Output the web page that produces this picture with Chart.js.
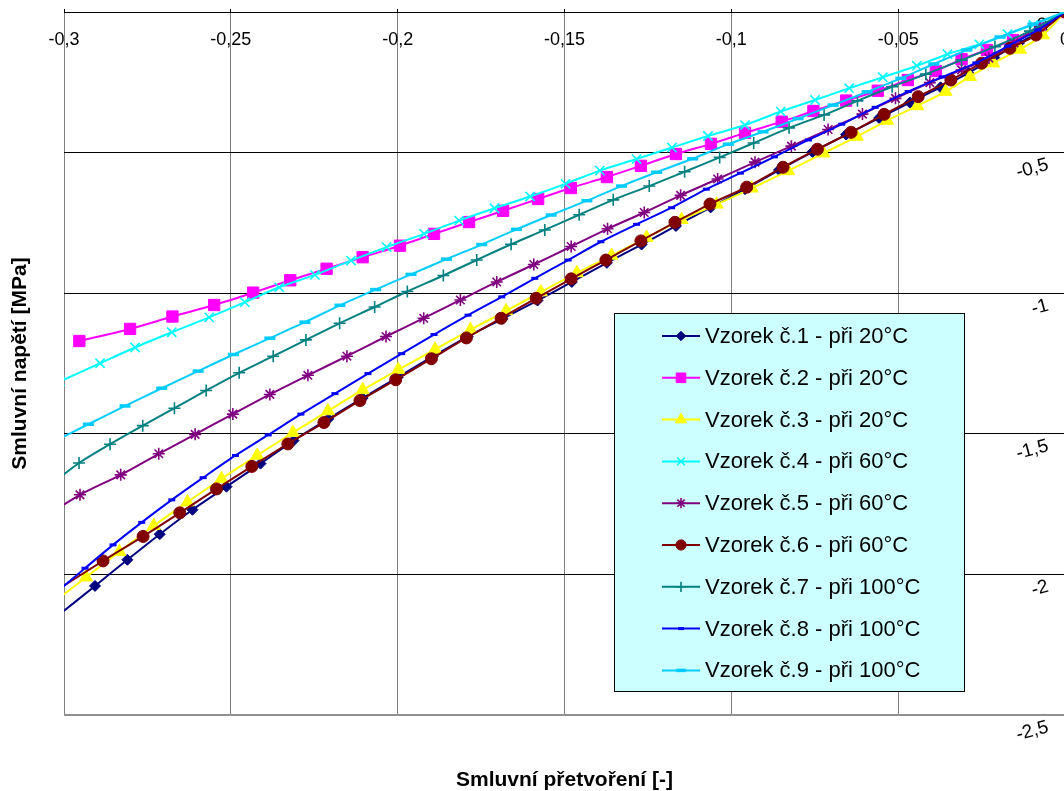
<!DOCTYPE html>
<html>
<head>
<meta charset="utf-8">
<script src="https://cdn.jsdelivr.net/npm/chart.js@4"></script>
<style>
  html, body { margin: 0; padding: 0; background: #ffffff; overflow: hidden; }
  #wrap { position: absolute; left: 0; top: 0; width: 1080px; height: 791px; }
  canvas { display: block; }
</style>
</head>
<body>
<div id="wrap"><canvas id="c" width="1080" height="791"></canvas></div>
<script>
// ---------- data ----------
const seriesNames = [
  'Vzorek č.1 - při 20°C', 'Vzorek č.2 - při 20°C', 'Vzorek č.3 - při 20°C',
  'Vzorek č.4 - při 60°C', 'Vzorek č.5 - při 60°C', 'Vzorek č.6 - při 60°C',
  'Vzorek č.7 - při 100°C', 'Vzorek č.8 - při 100°C', 'Vzorek č.9 - při 100°C'
];

const strain1 = [0, -0.0069, -0.0138, -0.0212, -0.0290, -0.0373, -0.0465, -0.0557, -0.0656, -0.0757, -0.0857, -0.0959, -0.1062, -0.1166, -0.1269, -0.1373, -0.1478, -0.1581, -0.1686, -0.1790, -0.1895, -0.2000, -0.2105, -0.2208, -0.2312, -0.2411, -0.2513, -0.2615, -0.2713, -0.2810, -0.2907, -0.3030];
const stress1 = [0, -0.064, -0.110, -0.162, -0.217, -0.268, -0.322, -0.377, -0.436, -0.498, -0.562, -0.630, -0.695, -0.761, -0.827, -0.892, -0.960, -1.026, -1.091, -1.154, -1.225, -1.299, -1.373, -1.447, -1.524, -1.606, -1.688, -1.770, -1.857, -1.948, -2.041, -2.158];

const strain2 = [0, -0.0075, -0.0156, -0.0234, -0.0310, -0.0387, -0.0471, -0.0561, -0.0656, -0.0754, -0.0849, -0.0959, -0.1061, -0.1166, -0.1271, -0.1373, -0.1481, -0.1579, -0.1684, -0.1786, -0.1891, -0.1993, -0.2105, -0.2213, -0.2322, -0.2433, -0.2550, -0.2675, -0.2802, -0.2954];
const stress2 = [0, -0.057, -0.100, -0.135, -0.168, -0.210, -0.242, -0.280, -0.315, -0.352, -0.390, -0.430, -0.469, -0.505, -0.547, -0.587, -0.626, -0.665, -0.707, -0.747, -0.789, -0.831, -0.872, -0.913, -0.954, -0.998, -1.042, -1.083, -1.127, -1.170];

const strain3 = [0, -0.0066, -0.0135, -0.0215, -0.0285, -0.0358, -0.0443, -0.0533, -0.0624, -0.0724, -0.0830, -0.0939, -0.1044, -0.1149, -0.1254, -0.1359, -0.1463, -0.1571, -0.1675, -0.1782, -0.1888, -0.1998, -0.2105, -0.2209, -0.2314, -0.2421, -0.2528, -0.2630, -0.2731, -0.2834, -0.2934, -0.3033];
const stress3 = [0, -0.082, -0.133, -0.182, -0.230, -0.283, -0.334, -0.386, -0.443, -0.502, -0.565, -0.627, -0.684, -0.739, -0.802, -0.866, -0.928, -0.996, -1.063, -1.130, -1.200, -1.272, -1.344, -1.419, -1.496, -1.577, -1.660, -1.743, -1.827, -1.919, -2.010, -2.101];

const strain4 = [0, -0.0095, -0.0172, -0.0257, -0.0352, -0.0444, -0.0546, -0.0647, -0.0749, -0.0852, -0.0959, -0.1070, -0.1178, -0.1284, -0.1394, -0.1497, -0.1603, -0.1710, -0.1816, -0.1921, -0.2033, -0.2140, -0.2248, -0.2355, -0.2458, -0.2565, -0.2677, -0.2787, -0.2892, -0.3012];
const stress4 = [0, -0.046, -0.079, -0.115, -0.150, -0.191, -0.232, -0.271, -0.313, -0.354, -0.402, -0.441, -0.482, -0.523, -0.564, -0.611, -0.656, -0.698, -0.742, -0.789, -0.836, -0.884, -0.935, -0.979, -1.032, -1.086, -1.139, -1.193, -1.249, -1.314];

const strain5 = [0, -0.0075, -0.0153, -0.0228, -0.0310, -0.0405, -0.0508, -0.0607, -0.0710, -0.0820, -0.0929, -0.1041, -0.1152, -0.1261, -0.1371, -0.1480, -0.1592, -0.1703, -0.1812, -0.1922, -0.2035, -0.2152, -0.2269, -0.2383, -0.2494, -0.2607, -0.2716, -0.2830, -0.2952, -0.3072];
const stress5 = [0, -0.053, -0.110, -0.164, -0.206, -0.251, -0.307, -0.363, -0.418, -0.477, -0.534, -0.594, -0.652, -0.713, -0.771, -0.834, -0.898, -0.960, -1.024, -1.089, -1.154, -1.224, -1.292, -1.360, -1.430, -1.502, -1.571, -1.646, -1.717, -1.806];

const strain6 = [0, -0.0087, -0.0165, -0.0250, -0.0342, -0.0440, -0.0542, -0.0641, -0.0742, -0.0845, -0.0954, -0.1064, -0.1169, -0.1271, -0.1376, -0.1480, -0.1585, -0.1690, -0.1794, -0.1899, -0.2006, -0.2113, -0.2221, -0.2329, -0.2437, -0.2543, -0.2653, -0.2763, -0.2883, -0.3024];
const stress6 = [0, -0.082, -0.129, -0.182, -0.242, -0.301, -0.364, -0.428, -0.488, -0.552, -0.623, -0.683, -0.748, -0.814, -0.882, -0.949, -1.018, -1.089, -1.159, -1.233, -1.308, -1.382, -1.460, -1.536, -1.616, -1.696, -1.781, -1.865, -1.952, -2.058];

const strain7 = [0, -0.0105, -0.0210, -0.0310, -0.0417, -0.0518, -0.0622, -0.0722, -0.0827, -0.0933, -0.1035, -0.1140, -0.1246, -0.1354, -0.1456, -0.1559, -0.1660, -0.1763, -0.1863, -0.1971, -0.2069, -0.2174, -0.2275, -0.2373, -0.2475, -0.2574, -0.2669, -0.2764, -0.2862, -0.2955, -0.3048];
const stress7 = [0, -0.068, -0.123, -0.171, -0.221, -0.266, -0.316, -0.366, -0.412, -0.466, -0.517, -0.568, -0.619, -0.668, -0.721, -0.775, -0.826, -0.882, -0.937, -0.994, -1.049, -1.107, -1.166, -1.224, -1.283, -1.346, -1.409, -1.471, -1.537, -1.604, -1.689];

const strain8 = [0, -0.0081, -0.0171, -0.0267, -0.0368, -0.0470, -0.0569, -0.0669, -0.0769, -0.0871, -0.0973, -0.1075, -0.1179, -0.1284, -0.1391, -0.1489, -0.1589, -0.1688, -0.1789, -0.1891, -0.1988, -0.2089, -0.2188, -0.2290, -0.2388, -0.2486, -0.2583, -0.2677, -0.2767, -0.2853, -0.2937, -0.3021];
const stress8 = [0, -0.064, -0.121, -0.181, -0.231, -0.283, -0.339, -0.399, -0.455, -0.515, -0.573, -0.630, -0.696, -0.755, -0.817, -0.882, -0.947, -1.013, -1.078, -1.147, -1.215, -1.286, -1.357, -1.430, -1.504, -1.577, -1.656, -1.735, -1.815, -1.895, -1.978, -2.062];

const strain9 = [0, -0.0096, -0.0195, -0.0294, -0.0393, -0.0492, -0.0593, -0.0695, -0.0800, -0.0905, -0.1009, -0.1116, -0.1224, -0.1329, -0.1433, -0.1540, -0.1644, -0.1748, -0.1854, -0.1960, -0.2066, -0.2173, -0.2278, -0.2383, -0.2492, -0.2598, -0.2707, -0.2817, -0.2927, -0.3039];
const stress9 = [0, -0.043, -0.089, -0.135, -0.185, -0.236, -0.284, -0.331, -0.379, -0.426, -0.470, -0.522, -0.570, -0.619, -0.671, -0.722, -0.773, -0.827, -0.879, -0.933, -0.987, -1.043, -1.103, -1.160, -1.218, -1.277, -1.338, -1.401, -1.466, -1.532];

const xTickLabels = ['-0,3', '-0,25', '-0,2', '-0,15', '-0,1', '-0,05', '0'];
const yTickLabels = ['-2,5', '-2', '-1,5', '-1', '-0,5', '0'];

// ---------- styles ----------
const FONT = '"Liberation Sans", Arial, Helvetica, sans-serif';
const seriesColors = ['#000080', '#FF00FF', '#FFFF00', '#00FFFF', '#800080', '#800000', '#008080', '#0000FF', '#00CCFF'];
const markerStyles = ['rectRot', 'rect', 'triangle', 'crossRot', 'star', 'circle', 'cross', 'line', 'line'];
const markerRadii = [5.5, 8, 7.5, 6.5, 6, 6, 6, 3.5, 5.5];
const markerBorders = [1, 1, 1, 1.6, 1.6, 1, 1.6, 3, 3.5];

const strains = [strain1, strain2, strain3, strain4, strain5, strain6, strain7, strain8, strain9];
const stresses = [stress1, stress2, stress3, stress4, stress5, stress6, stress7, stress8, stress9];

const datasets = seriesNames.map((name, i) => ({
  label: name,
  data: strains[i].map((x, k) => ({ x: x, y: stresses[i][k] })),
  borderColor: seriesColors[i],
  backgroundColor: seriesColors[i],
  borderWidth: 2,
  pointStyle: markerStyles[i],
  pointRadius: markerRadii[i],
  pointBorderWidth: markerBorders[i],
  pointBackgroundColor: seriesColors[i],
  pointBorderColor: seriesColors[i],
  tension: 0.3,
  order: seriesNames.length - 1 - i
}));

const X_MIN = -0.3, X_MAX = 0, X_STEP = 0.05;
const Y_MIN = -2.5, Y_MAX = 0, Y_STEP = 0.5;

function fixBox(prop, size) {
  return (s) => {
    s[prop] = size;
    s.paddingLeft = 0; s.paddingRight = 0; s.paddingTop = 0; s.paddingBottom = 0;
  };
}

// legend drawn inside the plot, like the original
const boxLegend = {
  id: 'boxLegend',
  afterDraw(chart) {
    const ctx = chart.ctx;
    const bx = 614.5, by = 313.5, bw = 350, bh = 378;
    ctx.save();
    ctx.fillStyle = '#CCFFFF';
    ctx.fillRect(bx, by, bw, bh);
    ctx.strokeStyle = '#000000';
    ctx.lineWidth = 1;
    ctx.strokeRect(bx, by, bw, bh);
    chart.data.datasets.forEach((ds, i) => {
      const y = 336 + i * 41.8;
      ctx.strokeStyle = ds.borderColor;
      ctx.lineWidth = 2;
      ctx.beginPath();
      ctx.moveTo(662, y);
      ctx.lineTo(700, y);
      ctx.stroke();
      ctx.fillStyle = ds.pointBackgroundColor;
      ctx.strokeStyle = ds.pointBorderColor;
      ctx.lineWidth = ds.pointBorderWidth;
      if (Chart.helpers && Chart.helpers.drawPoint) {
        Chart.helpers.drawPoint(ctx, {
          pointStyle: ds.pointStyle, rotation: 0,
          radius: ds.pointRadius * 0.85, borderWidth: ds.pointBorderWidth
        }, 681, y);
      }
      ctx.fillStyle = '#000000';
      ctx.font = '22px ' + FONT;
      ctx.textAlign = 'left';
      ctx.textBaseline = 'middle';
      ctx.fillText(ds.label, 705, y + 1);
    });
    ctx.restore();
  }
};

new Chart(document.getElementById('c'), {
  type: 'line',
  data: { datasets: datasets },
  plugins: [boxLegend],
  options: {
    responsive: false,
    animation: false,
    events: [],
    layout: { padding: 0 },
    plugins: { legend: { display: false }, tooltip: { enabled: false } },
    scales: {
      x: {
        type: 'linear', position: 'top', min: X_MIN, max: X_MAX,
        afterFit: fixBox('height', 12),
        ticks: {
          stepSize: X_STEP, autoSkip: false, mirror: true, padding: 17,
          maxRotation: 0, minRotation: 0,
          color: '#000000', font: { family: FONT, size: 18 },
          callback: (v) => xTickLabels[Math.round((v - X_MIN) / X_STEP)]
        },
        grid: { color: '#808080', lineWidth: 1, drawTicks: true, tickLength: 3, tickColor: '#000000' },
        border: { display: true, color: '#000000', width: 1 }
      },
      x2: {
        type: 'linear', position: 'bottom', min: 0, max: 1,
        afterFit: fixBox('height', 76),
        ticks: { display: false },
        grid: { display: false, drawTicks: false },
        border: { display: false },
        title: {
          display: true, text: 'Smluvní přetvoření [-]', color: '#000000',
          font: { family: FONT, size: 21, weight: 'bold', lineHeight: 1 },
          padding: { top: 0, bottom: 0 }
        }
      },
      y: {
        type: 'linear', position: 'right', min: Y_MIN, max: Y_MAX,
        afterFit: fixBox('width', 15),
        ticks: {
          stepSize: Y_STEP, autoSkip: false, mirror: true, padding: -20,
          minRotation: 15, maxRotation: 15,
          color: '#000000', font: { family: FONT, size: 19, lineHeight: 1.3 },
          callback: (v) => ['', yTickLabels[Math.round((v - Y_MIN) / Y_STEP)]]
        },
        grid: {
          color: (c) => (c.tick && c.tick.value === Y_MIN) ? '#909090' : '#000000',
          lineWidth: (c) => (c.tick && c.tick.value === Y_MIN) ? 2 : 1,
          drawTicks: false
        },
        border: { display: true, color: '#000000', width: 1 }
      },
      y2: {
        type: 'linear', position: 'left', min: 0, max: 1,
        afterFit: fixBox('width', 64),
        ticks: { display: false },
        grid: { display: false, drawTicks: false },
        border: { display: false },
        title: {
          display: true, text: 'Smluvní napětí [MPa]', color: '#000000',
          font: { family: FONT, size: 21, weight: 'bold', lineHeight: 1.2 },
          padding: { top: 8, bottom: 0 }
        }
      }
    }
  }
});
</script>
</body>
</html>
